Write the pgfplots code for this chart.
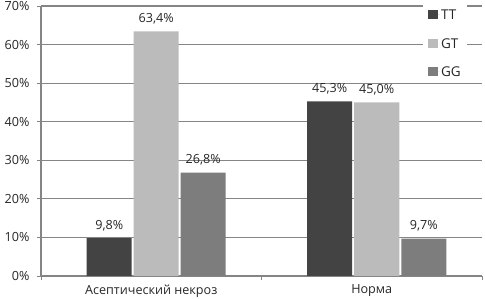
\documentclass[border=0pt]{standalone}
\usepackage{pgfplots}
\pgfplotsset{compat=1.18}
\usepackage{fontspec}
\setmainfont{Open Sans}
\definecolor{cTT}{HTML}{434343}
\definecolor{cGT}{HTML}{BBBBBB}
\definecolor{cGG}{HTML}{7D7D7D}
\definecolor{gridc}{HTML}{858585}
\newcommand{\lblfont}{\fontsize{12.6}{14}\selectfont}
\begin{document}
\begin{tikzpicture}
\begin{axis}[
  scale only axis,
  width=441pt, height=270pt,
  xmin=-0.5, xmax=1.5,
  ymin=0, ymax=70,
  ybar=2pt, bar width=45pt,
  xtick={0,1},
  xticklabels={Асептический некроз, Норма},
  major x tick style={draw=none},
  minor xtick={-0.5,0.5,1.5},
  minor x tick style={gridc, line width=0.8pt},
  ytick={0,10,...,70},
  yticklabel={\pgfmathprintnumber{\tick}\%},
  ymajorgrids,
  grid style={gridc, line width=1.1pt},
  axis x line*=bottom, axis y line*=left,
  axis line style={gridc, line width=1.1pt, -},
  tick style={gridc, line width=0.8pt},
  tick align=outside,
  major tick length=4pt, minor tick length=4pt,
  /pgf/number format/assume math mode=true,
  ticklabel style={font=\lblfont, text=black!85},
  yticklabel style={xshift=-4pt},
  xticklabel style={yshift=-1pt},
  nodes near coords={\pgfmathprintnumber[fixed,fixed zerofill,precision=1,use comma]{\pgfplotspointmeta}\%},
  every node near coord/.append style={font=\lblfont, text=black!85, anchor=south, yshift=4pt},
  legend image code/.code={\fill[#1,draw=none] (0pt,-4.5pt) rectangle (9.5pt,4.5pt); \path (0pt,0pt) -- (11.5pt,0pt);},
  legend style={at={(rel axis cs:0.866,1.01)}, anchor=north west, draw=none, fill=white,
    font=\fontsize{13.5}{15}\selectfont, text=black!85,
    row sep=15.5pt, inner xsep=5pt, inner ysep=5pt,
    nodes={inner sep=1.5pt, text height=10pt, text depth=0pt}},
  legend cell align=left,
]
\addplot[fill=cTT, draw=none, bar shift=-42pt] coordinates {(0,9.8) (1,45.3)};
\addplot[fill=cGT, draw=none, bar shift=5pt] coordinates {(0,63.4) (1,45.0)};
\addplot[fill=cGG, draw=none, bar shift=52pt] coordinates {(0,26.8) (1,9.7)};
\legend{TT,GT,GG}
\end{axis}
\pgfresetboundingbox
\path[use as bounding box] (-41pt,-23pt) rectangle (444pt,276pt);
\end{tikzpicture}
\end{document}
